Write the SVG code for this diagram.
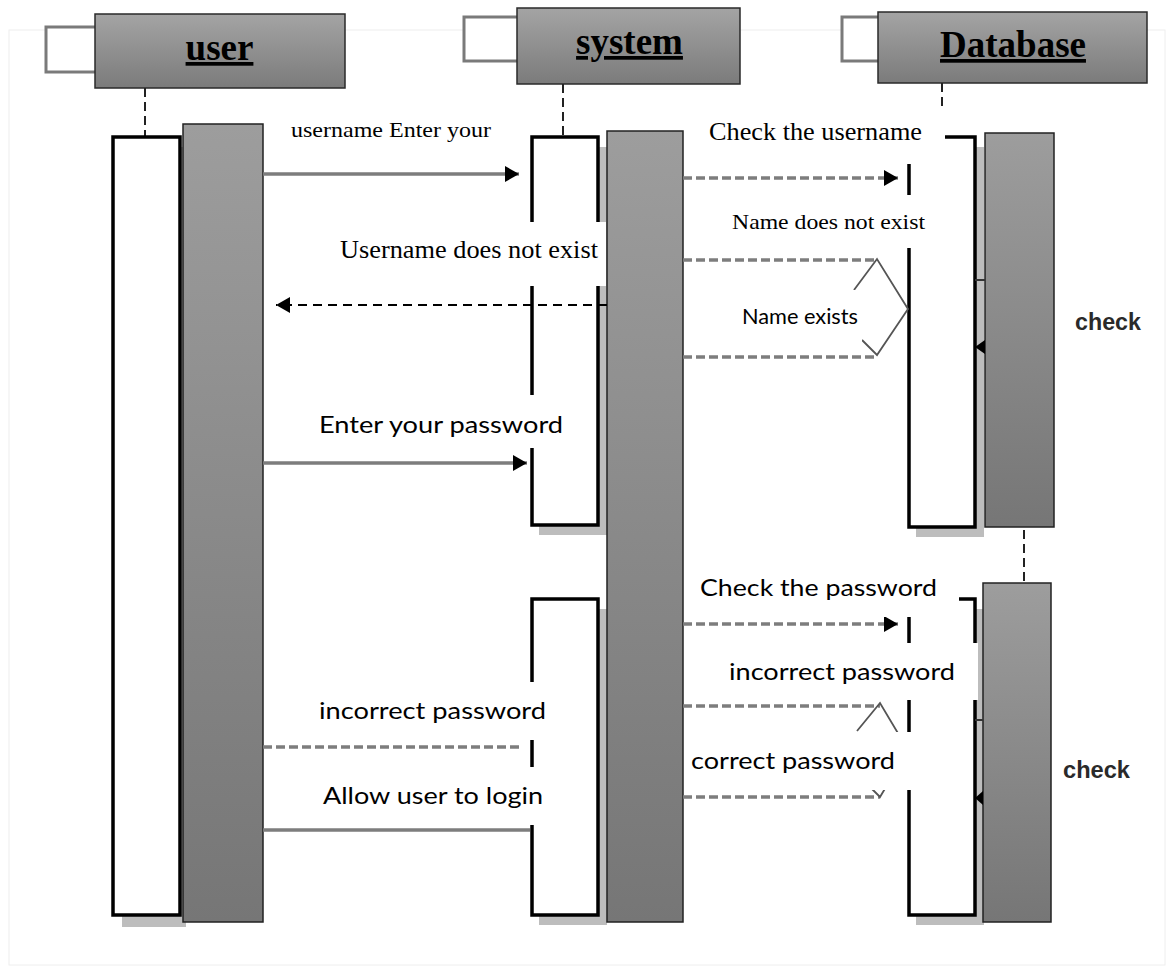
<svg xmlns="http://www.w3.org/2000/svg" width="1170" height="971" viewBox="0 0 1170 971">
<defs>
<linearGradient id="hdr" x1="0" y1="0" x2="0" y2="1"><stop offset="0" stop-color="#a4a4a4"/><stop offset="1" stop-color="#7b7b7b"/></linearGradient>
<linearGradient id="act" x1="0" y1="0" x2="0" y2="1"><stop offset="0" stop-color="#9d9d9d"/><stop offset="1" stop-color="#767676"/></linearGradient>
<marker id="ah" viewBox="0 0 14 16" refX="14" refY="8" markerWidth="14" markerHeight="16" markerUnits="userSpaceOnUse" orient="auto"><path d="M0,0 L14,8 L0,16 z" fill="#000"/></marker>
<style>
.hd{fill:url(#hdr);stroke:#2a2a2a;stroke-width:1.5}
.tab{fill:#fff;stroke:#7a7a7a;stroke-width:3}
.life{stroke:#222;stroke-width:2;stroke-dasharray:9 5;fill:none}
.wbox{fill:#fff;stroke:#000;stroke-width:3.5}
.shadow{fill:#bdbdbd}
.gbar{fill:url(#act);stroke:#222;stroke-width:1.5}
.msg{stroke:#7d7d7d;stroke-width:3.5;fill:none}
.dmsg{stroke:#7d7d7d;stroke-width:3.5;stroke-dasharray:9 4;fill:none}
.bmsg{stroke:#000;stroke-width:2.2;stroke-dasharray:9 6;fill:none}
.zig{stroke:#555;stroke-width:1.8;fill:none}
.bg{fill:#fff}
.title{font-family:"Liberation Serif",serif;font-weight:bold;font-size:37px;text-decoration:underline;fill:#000}
.serif{font-family:"Liberation Serif",serif;fill:#000}
.sans{font-family:Lato,"Liberation Sans",sans-serif;fill:#000}
.chk{font-family:"Liberation Sans",Arial,sans-serif;font-weight:bold;font-size:24px;fill:#2a2a2a}
</style>
</defs>
<rect x="9" y="30" width="1156" height="935" fill="none" stroke="#eeeeee" stroke-width="1"/>

<g id="user">
<rect class="tab" x="46" y="27" width="60" height="45"/>
<rect class="hd" x="95" y="14" width="250" height="74"/>
<text class="title" x="219.5" y="60" text-anchor="middle">user</text>
<line class="life" x1="145" y1="88" x2="145" y2="137"/>
<rect class="shadow" x="122" y="147" width="64" height="780"/>
<rect class="wbox" x="113" y="137" width="67" height="778"/>
<rect class="gbar" x="183" y="124" width="80" height="798"/>
</g>

<g id="system">
<rect class="tab" x="464" y="17" width="60" height="44"/>
<rect class="hd" x="517" y="8" width="223" height="76"/>
<text class="title" x="629.5" y="54" text-anchor="middle">system</text>
<line class="life" x1="563" y1="84" x2="563" y2="137"/>
<rect class="shadow" x="539" y="147" width="68" height="388"/>
<rect class="wbox" x="532" y="137" width="66" height="388"/>
<rect class="shadow" x="539" y="609" width="68" height="316"/>
<rect class="wbox" x="532" y="599" width="66" height="316"/>
<rect class="gbar" x="607" y="131" width="76" height="791"/>
</g>

<g id="database">
<rect class="tab" x="842" y="17" width="44" height="44"/>
<rect class="hd" x="878" y="12" width="269" height="71"/>
<text class="title" x="1013" y="57" text-anchor="middle">Database</text>
<line class="life" x1="942" y1="83" x2="942" y2="137"/>
<rect class="shadow" x="916" y="147" width="68" height="390"/>
<rect class="wbox" x="909" y="137" width="66" height="390"/>
<rect class="gbar" x="985" y="133" width="69" height="394"/>
<line class="life" x1="1024" y1="530" x2="1024" y2="582"/>
<rect class="shadow" x="916" y="609" width="68" height="316"/>
<rect class="wbox" x="909" y="599" width="66" height="316"/>
<rect class="gbar" x="983" y="583" width="68" height="339"/>
<line x1="975" y1="280" x2="985" y2="280" stroke="#333" stroke-width="2"/>
<polygon points="975,347 985,340 985,354" fill="#000"/>
<line x1="975" y1="720" x2="983" y2="720" stroke="#333" stroke-width="2"/>
<polygon points="975,798 983,791 983,805" fill="#000"/>
</g>

<g id="connectors">
<line class="msg" x1="263" y1="174" x2="519" y2="174" marker-end="url(#ah)"/>
<line class="dmsg" x1="683" y1="178" x2="898" y2="178" marker-end="url(#ah)"/>
<line class="dmsg" x1="683" y1="260" x2="877" y2="260"/>
<line class="dmsg" x1="683" y1="357" x2="877" y2="357"/>
<polyline class="zig" points="854,290 877,259 908,309 877,355 862,340"/>
<line class="bmsg" x1="607" y1="305" x2="276" y2="305" marker-end="url(#ah)"/>
<line class="msg" x1="263" y1="463" x2="527" y2="463" marker-end="url(#ah)"/>
<line class="dmsg" x1="683" y1="624" x2="898" y2="624" marker-end="url(#ah)"/>
<line class="dmsg" x1="683" y1="706" x2="880" y2="706"/>
<line class="dmsg" x1="683" y1="797" x2="880" y2="797"/>
<polyline class="zig" points="857,731 880,703 908,750 880,797 870,787"/>
<line class="dmsg" x1="263" y1="747" x2="520" y2="747"/>
<line class="msg" x1="263" y1="830" x2="530" y2="830"/>
</g>

<g id="labels">
<rect class="bg" x="700" y="108" width="245" height="56"/>
<rect class="bg" x="700" y="195" width="232" height="53"/>
<rect class="bg" x="275" y="222" width="331" height="64"/>
<rect class="bg" x="705" y="290" width="157" height="52"/>
<rect class="bg" x="300" y="395" width="235" height="53"/>
<rect class="bg" x="690" y="568" width="269" height="49"/>
<rect class="bg" x="700" y="643" width="278" height="57"/>
<rect class="bg" x="684" y="732" width="228" height="58"/>
<rect class="bg" x="295" y="682" width="255" height="58"/>
<rect class="bg" x="300" y="767" width="250" height="58"/>

<text class="serif" x="291" y="137" font-size="22" textLength="200" lengthAdjust="spacingAndGlyphs">username Enter your</text>
<text class="serif" x="709" y="140" font-size="25" textLength="213" lengthAdjust="spacingAndGlyphs">Check the username</text>
<text class="serif" x="732" y="229" font-size="22" textLength="193" lengthAdjust="spacingAndGlyphs">Name does not exist</text>
<text class="serif" x="340" y="258" font-size="25" textLength="258" lengthAdjust="spacingAndGlyphs">Username does not exist</text>
<text class="sans" x="742" y="324" font-size="21" textLength="116" lengthAdjust="spacingAndGlyphs">Name exists</text>
<text class="sans" x="319" y="433" font-size="24" textLength="244" lengthAdjust="spacingAndGlyphs">Enter your password</text>
<text class="sans" x="700" y="596" font-size="24" textLength="237" lengthAdjust="spacingAndGlyphs">Check the password</text>
<text class="sans" x="729" y="680" font-size="24" textLength="226" lengthAdjust="spacingAndGlyphs">incorrect password</text>
<text class="sans" x="691" y="769" font-size="24" textLength="204" lengthAdjust="spacingAndGlyphs">correct password</text>
<text class="sans" x="319" y="719" font-size="24" textLength="227" lengthAdjust="spacingAndGlyphs">incorrect password</text>
<text class="sans" x="323" y="804" font-size="24" textLength="220" lengthAdjust="spacingAndGlyphs">Allow user to login</text>
<text class="chk" x="1075" y="330" textLength="66" lengthAdjust="spacingAndGlyphs">check</text>
<text class="chk" x="1063" y="778" textLength="67" lengthAdjust="spacingAndGlyphs">check</text>
</g>
</svg>
